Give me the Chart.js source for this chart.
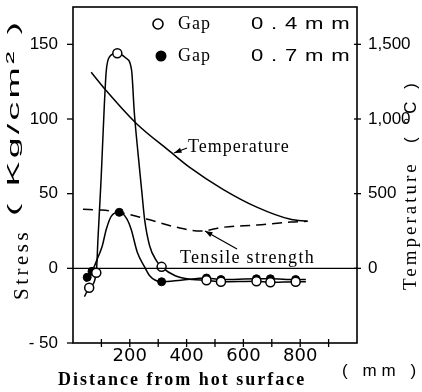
<!DOCTYPE html>
<html>
<head>
<meta charset="utf-8">
<script src="https://cdn.jsdelivr.net/npm/chart.js@4/dist/chart.umd.min.js"></script>
<style>
  body { margin: 0; background: #fff; }
  #wrap { width: 422px; height: 392px; position: relative; }
</style>
</head>
<body>
<div id="wrap"><canvas id="graph"></canvas></div>
<script>
// stress curves (distance in mm, stress in Kg/cm2)
const gap04CurveX = [40, 57, 82, 88, 99, 110, 117, 130, 156, 185, 206, 216, 230, 243, 252, 270, 294, 312, 360, 420, 470, 521, 646, 695, 784, 820];
const gap04CurveY = [-19, -13, -3, 20, 60, 108, 132, 142, 144, 141, 133, 104, 75, 50, 33, 15, 5, 1, -5, -7.5, -8, -9, -8.7, -9.4, -9, -9];
const gap04MarkX = [57, 82, 156, 312, 470, 521, 646, 695, 784];
const gap04MarkY = [-13, -3, 144, 1, -8, -9, -8.7, -9.4, -9];

const gap07CurveX = [45, 50, 67, 85, 103, 117, 135, 163, 190, 205, 226, 252, 270, 290, 312, 380, 470, 521, 646, 695, 784, 820];
const gap07CurveY = [-9, -6, -2, 6, 15, 26, 35, 37.5, 33, 26, 11, 1, -5, -8, -9, -8, -6.5, -7.5, -7, -7, -7.5, -7.5];
const gap07MarkX = [50, 67, 163, 312, 470, 521, 646, 695, 784];
const gap07MarkY = [-6, -2, 37.5, -9, -6.5, -7.5, -7, -7, -7.5];

// tensile strength (Kg/cm2) and temperature (C)
const tensileX = [35, 100, 163, 259, 365, 450, 528, 649, 766, 826];
const tensileY = [39.5, 39, 37.5, 33, 27.5, 25, 27.5, 29, 31, 31.5];
const tempX = [64, 117, 223, 340, 411, 528, 649, 766, 826];
const tempY = [1313, 1190, 970, 785, 676, 529, 408, 328, 315];

// ticks
const distTicks = [100, 200, 300, 400, 500, 600, 700, 800, 900];
const distLabels = [200, 400, 600, 800];
const stressTicks = [-50, 0, 50, 100, 150];
const tempTicks = [0, 500, 1000, 1500];

const SERIF = '"Liberation Serif", "DejaVu Serif", serif';
const SANS = '"Liberation Sans", "DejaVu Sans", sans-serif';

function pts(xs, ys) {
    return xs.map((x, i) => ({ x: x, y: ys[i] }));
}

function txt(ctx, str, x, y, font, o) {
    o = o || {};
    ctx.save();
    ctx.translate(x, y);
    if (o.rot) ctx.rotate(o.rot);
    if (o.sx) ctx.scale(o.sx, 1);
    ctx.font = font;
    ctx.letterSpacing = (o.sp || 0) + 'px';
    ctx.textAlign = o.align || 'left';
    ctx.textBaseline = 'middle';
    ctx.fillStyle = '#000';
    ctx.fillText(str, 0, 0);
    ctx.restore();
}

function seg(ctx, x1, y1, x2, y2) {
    ctx.beginPath();
    ctx.moveTo(x1, y1);
    ctx.lineTo(x2, y2);
    ctx.stroke();
}

function arrow(ctx, x1, y1, x2, y2) {
    // shaft from (x1,y1) to head at (x2,y2)
    seg(ctx, x1, y1, x2, y2);
    const a = Math.atan2(y2 - y1, x2 - x1);
    ctx.beginPath();
    ctx.moveTo(x2, y2);
    ctx.lineTo(x2 - 8 * Math.cos(a - 0.35), y2 - 8 * Math.sin(a - 0.35));
    ctx.lineTo(x2 - 8 * Math.cos(a + 0.35), y2 - 8 * Math.sin(a + 0.35));
    ctx.closePath();
    ctx.fill();
}

// no extra room for half tick labels, the box is fixed
function noPad(s) {
    s.paddingTop = 0;
    s.paddingBottom = 0;
    s.paddingLeft = 0;
    s.paddingRight = 0;
}

const annotate = {
    id: 'annotate',
    afterDraw(chart) {
        const ctx = chart.ctx;
        const a = chart.chartArea;
        const sx = chart.scales.x, sy = chart.scales.y, st = chart.scales.yT;
        ctx.save();
        ctx.strokeStyle = '#000';
        ctx.fillStyle = '#000';
        ctx.lineWidth = 1.6;
        ctx.strokeRect(a.left, a.top, a.right - a.left, a.bottom - a.top);
        ctx.lineWidth = 1.3;
        const y0 = sy.getPixelForValue(0);
        seg(ctx, a.left, y0, a.right, y0);
        sy.ticks.forEach(t => { const p = sy.getPixelForValue(t.value); seg(ctx, a.left - 6, p, a.left, p); });
        st.ticks.forEach(t => { const p = st.getPixelForValue(t.value); seg(ctx, a.right - 3, p, a.right + 4, p); });
        sx.ticks.forEach(t => { const p = sx.getPixelForValue(t.value); seg(ctx, p, a.bottom - 4, p, a.bottom + 4); });

        // legend
        ctx.lineWidth = 1.6;
        ctx.beginPath(); ctx.arc(158, 24, 5, 0, Math.PI * 2); ctx.fillStyle = '#fff'; ctx.fill(); ctx.stroke();
        ctx.fillStyle = '#000';
        ctx.beginPath(); ctx.arc(161, 56, 5.5, 0, Math.PI * 2); ctx.fill();
        txt(ctx, 'Gap', 178, 24, '18px ' + SERIF, { sp: 1 });
        txt(ctx, 'Gap', 178, 56, '18px ' + SERIF, { sp: 1 });
        txt(ctx, '0.4mm', 251, 24, '17px ' + SANS, { sx: 1.3, sp: 6 });
        txt(ctx, '0.7mm', 251, 56, '17px ' + SANS, { sx: 1.3, sp: 6 });

        // in-plot labels
        ctx.lineWidth = 1.3;
        txt(ctx, 'Temperature', 188, 147, '18px ' + SERIF, { sp: 1 });
        arrow(ctx, 187, 148, 174, 153);
        txt(ctx, 'Tensile strength', 180, 258, '18px ' + SERIF, { sp: 1.3 });
        arrow(ctx, 237, 249, 205, 231);

        // axis titles
        txt(ctx, 'Distance from hot surface', 58, 380, 'bold 18px ' + SERIF, { sp: 2 });
        txt(ctx, '( mm )', 342, 371, '17px ' + SANS, { sp: 5 });
        txt(ctx, 'Stress', 22, 300, '21px ' + SERIF, { rot: -Math.PI / 2, sp: 3.5 });
        txt(ctx, '( Kg/cm² )', 14, 216, '17px ' + SANS, { rot: -Math.PI / 2, sx: 2.2, sp: 1.5 });
        txt(ctx, 'Temperature', 411, 290, '19px ' + SERIF, { rot: -Math.PI / 2, sp: 3 });
        txt(ctx, '( °C )', 411, 143, '17px ' + SANS, { rot: -Math.PI / 2, sp: 4 });
        ctx.restore();
    }
};

const curve = (xs, ys, axis, dash) => ({
    data: pts(xs, ys),
    yAxisID: axis,
    borderColor: '#000',
    borderWidth: 1.5,
    borderDash: dash || [],
    pointRadius: 0,
    fill: false,
    cubicInterpolationMode: 'monotone'
});

const ctx = document.getElementById('graph').getContext('2d');
const chart = new Chart(ctx, {
    type: 'line',
    data: {
        datasets: [
            {
                data: pts(gap04MarkX, gap04MarkY),
                yAxisID: 'y',
                showLine: false,
                pointRadius: 4.5,
                pointBackgroundColor: '#fff',
                pointBorderColor: '#000',
                pointBorderWidth: 1.5
            },
            {
                data: pts(gap07MarkX, gap07MarkY),
                yAxisID: 'y',
                showLine: false,
                pointRadius: 4,
                pointBackgroundColor: '#000',
                pointBorderColor: '#000',
                pointBorderWidth: 1
            },
            curve(gap04CurveX, gap04CurveY, 'y'),
            curve(gap07CurveX, gap07CurveY, 'y'),
            curve(tensileX, tensileY, 'y', [10, 6]),
            curve(tempX, tempY, 'yT')
        ]
    },
    options: {
        responsive: true,
        maintainAspectRatio: false,
        animation: false,
        layout: { padding: { top: 7, left: 0, right: 0, bottom: 0 } },
        plugins: { legend: { display: false }, tooltip: { enabled: false } },
        scales: {
            x: {
                type: 'linear',
                position: 'bottom',
                min: 0,
                max: 1000,
                afterBuildTicks: s => { s.ticks = distTicks.map(v => ({ value: v })); },
                afterFit: s => { s.height = 49; noPad(s); },
                grid: { display: false },
                border: { display: false },
                ticks: {
                    autoSkip: false,
                    maxRotation: 0,
                    padding: -5,
                    color: '#000',
                    font: { family: 'DejaVu Sans', size: 18 },
                    callback: v => distLabels.includes(v) ? String(v) : ''
                }
            },
            y: {
                type: 'linear',
                position: 'left',
                min: -50,
                max: 175,
                afterBuildTicks: s => { s.ticks = stressTicks.map(v => ({ value: v })); },
                afterFit: s => { s.width = 73; noPad(s); },
                grid: { display: false },
                border: { display: false },
                ticks: {
                    padding: 7,
                    color: '#000',
                    font: { family: 'Liberation Sans', size: 17 },
                    callback: v => v < 0 ? '- ' + Math.abs(v) : String(v)
                }
            },
            yT: {
                type: 'linear',
                position: 'right',
                min: -500,
                max: 1750,
                afterBuildTicks: s => { s.ticks = tempTicks.map(v => ({ value: v })); },
                afterFit: s => { s.width = 65; noPad(s); },
                grid: { display: false },
                border: { display: false },
                ticks: {
                    padding: 3,
                    color: '#000',
                    font: { family: 'Liberation Sans', size: 17 },
                    callback: v => v.toLocaleString('en-US')
                }
            }
        }
    },
    plugins: [annotate]
});
</script>
</body>
</html>
